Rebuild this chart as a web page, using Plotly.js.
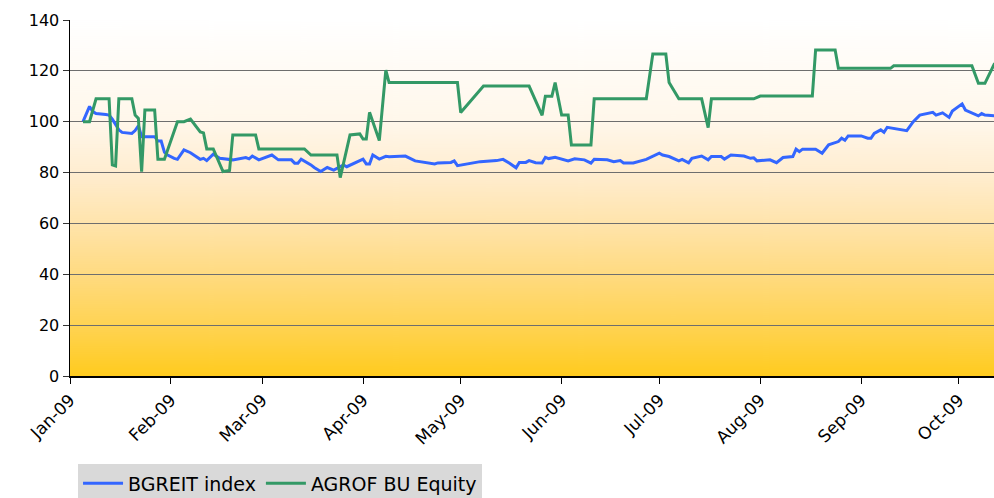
<!DOCTYPE html>
<html>
<head>
<meta charset="utf-8">
<script src="https://cdn.plot.ly/plotly-3.0.1.min.js"></script>
<style>html,body{margin:0;padding:0;background:#fff;}#chart{width:994px;height:498px;}</style>
</head>
<body>
<div id="chart"></div>
<script>
var seriesNames = ["BGREIT index", "AGROF BU Equity"];

var bgreitDates = ["2009-01-05","2009-01-07","2009-01-08","2009-01-09","2009-01-12","2009-01-13","2009-01-14","2009-01-16","2009-01-17","2009-01-19","2009-01-20","2009-01-21","2009-01-22","2009-01-23","2009-01-27","2009-01-28","2009-01-29","2009-01-30","2009-01-31","2009-02-02","2009-02-03","2009-02-05","2009-02-07","2009-02-10","2009-02-11","2009-02-12","2009-02-14","2009-02-16","2009-02-18","2009-02-20","2009-02-24","2009-02-25","2009-02-26","2009-02-28","2009-03-04","2009-03-06","2009-03-10","2009-03-11","2009-03-12","2009-03-13","2009-03-16","2009-03-17","2009-03-19","2009-03-21","2009-03-23","2009-03-26","2009-03-27","2009-04-01","2009-04-02","2009-04-03","2009-04-04","2009-04-06","2009-04-08","2009-04-09","2009-04-14","2009-04-17","2009-04-23","2009-04-24","2009-04-28","2009-04-29","2009-04-30","2009-05-07","2009-05-12","2009-05-14","2009-05-16","2009-05-18","2009-05-19","2009-05-21","2009-05-22","2009-05-24","2009-05-26","2009-05-27","2009-05-28","2009-05-30","2009-06-03","2009-06-05","2009-06-08","2009-06-10","2009-06-11","2009-06-15","2009-06-17","2009-06-19","2009-06-20","2009-06-23","2009-06-27","2009-06-29","2009-07-01","2009-07-02","2009-07-04","2009-07-07","2009-07-08","2009-07-10","2009-07-11","2009-07-14","2009-07-16","2009-07-17","2009-07-20","2009-07-21","2009-07-23","2009-07-27","2009-07-29","2009-07-30","2009-07-31","2009-08-04","2009-08-06","2009-08-08","2009-08-11","2009-08-12","2009-08-13","2009-08-14","2009-08-18","2009-08-20","2009-08-22","2009-08-25","2009-08-26","2009-08-27","2009-08-28","2009-09-01","2009-09-03","2009-09-04","2009-09-05","2009-09-07","2009-09-08","2009-09-09","2009-09-12","2009-09-15","2009-09-17","2009-09-19","2009-09-23","2009-09-24","2009-09-26","2009-09-28","2009-09-29","2009-10-02","2009-10-03","2009-10-07","2009-10-08","2009-10-09","2009-10-12"];
var bgreitValues = [100,106,104,103.2,102.8,102.6,101,96.8,95.8,95.6,95.4,96.5,98.4,94.1,94.1,92.4,92.4,88,86.9,85.6,85.2,88.9,87.8,85.2,85.6,84.7,87.2,85.6,85.2,85,85.9,85.4,86.5,85,86.9,85,85,83.7,83.7,85.3,83,82,80.4,82,81,83,82.3,85.3,83.4,83.4,86.9,85.3,86.4,86.2,86.5,84.6,83.4,83.8,84,84.6,82.7,84.3,84.7,85.2,83.7,81.9,84,84,84.7,83.9,83.8,86,85.5,86,84.6,85.4,85,83.7,85.2,85,84.3,84.7,83.8,83.8,85.2,86.3,87.6,86.9,86.3,84.6,85.2,83.8,85.6,86.5,85,86.3,86.3,85.3,86.9,86.5,85.6,85.8,84.6,85,83.9,85.9,86.3,89.2,88.2,89.2,89.2,87.6,90.9,92.2,93.5,92.7,94.4,94.4,93.5,93.5,95.4,96.8,95.8,97.8,97.2,96.5,100,102.6,103.7,102.6,103.5,101.7,104.2,107,104.6,102.3,103.2,102.6,102.3];

var agrofDates = ["2009-01-05","2009-01-07","2009-01-09","2009-01-13","2009-01-14","2009-01-15","2009-01-16","2009-01-20","2009-01-21","2009-01-22","2009-01-23","2009-01-24","2009-01-27","2009-01-28","2009-01-30","2009-02-03","2009-02-05","2009-02-07","2009-02-10","2009-02-11","2009-02-12","2009-02-14","2009-02-17","2009-02-19","2009-02-20","2009-02-27","2009-02-28","2009-03-14","2009-03-16","2009-03-24","2009-03-25","2009-03-28","2009-03-31","2009-04-01","2009-04-02","2009-04-03","2009-04-06","2009-04-08","2009-04-09","2009-04-30","2009-05-01","2009-05-08","2009-05-22","2009-05-26","2009-05-27","2009-05-29","2009-05-30","2009-06-01","2009-06-03","2009-06-04","2009-06-10","2009-06-11","2009-06-27","2009-06-29","2009-07-03","2009-07-04","2009-07-07","2009-07-14","2009-07-16","2009-07-17","2009-07-30","2009-08-01","2009-08-17","2009-08-18","2009-08-24","2009-08-25","2009-09-10","2009-09-11","2009-10-05","2009-10-07","2009-10-09","2009-10-12"];
var agrofValues = [100,100,109,109,83,82.6,109,109,102.6,101.3,80.4,104.6,104.6,85.2,85.2,100,100,101,96,95.6,89.3,89.3,80.4,80.8,94.8,94.8,89.3,89.3,86.9,86.9,78,94.8,95.2,93.2,93.2,103.7,92.6,120.3,115.4,115.4,103.6,114,114,102.5,110,110,115.4,102.6,102.6,90.8,90.8,109,109,126.6,126.6,115.4,109,109,97.7,109,109,110.1,110.1,128.2,128.2,121,121,122,122,115.1,115.1,123];

var xTickVals = ["2009-01-01","2009-02-01","2009-03-01","2009-04-01","2009-05-01","2009-06-01","2009-07-01","2009-08-01","2009-09-01","2009-10-01"];
var xTickText = ["Jan-09","Feb-09","Mar-09","Apr-09","May-09","Jun-09","Jul-09","Aug-09","Sep-09","Oct-09"];

// background gradient for the plot area
var cv = document.createElement('canvas');
cv.width = 10; cv.height = 356;
var cx = cv.getContext('2d');
var g = cx.createLinearGradient(0, 0, 0, 356);
g.addColorStop(0, '#FFFFFF');
g.addColorStop(0.29, '#FFF7EA');
g.addColorStop(0.43, '#FFEDD0');
g.addColorStop(0.57, '#FFE4AC');
g.addColorStop(0.71, '#FFDB82');
g.addColorStop(0.86, '#FFD352');
g.addColorStop(1, '#FFCB1E');
cx.fillStyle = g;
cx.fillRect(0, 0, 10, 356);
var bgUrl = cv.toDataURL('image/png');

var traces = [
  {x: bgreitDates, y: bgreitValues, name: seriesNames[0], type: 'scatter', mode: 'lines',
   line: {color: '#3366FF', width: 3}},
  {x: agrofDates, y: agrofValues, name: seriesNames[1], type: 'scatter', mode: 'lines',
   line: {color: '#339966', width: 3}}
];

var layout = {
  width: 994, height: 498,
  margin: {l: 70, r: 0, t: 20, b: 122, autoexpand: false},
  paper_bgcolor: '#FFFFFF',
  plot_bgcolor: 'rgba(0,0,0,0)',
  font: {family: 'DejaVu Sans, Arial, sans-serif', color: '#000000'},
  showlegend: true,
  legend: {orientation: 'h', x: 0.0087, xanchor: 'left', y: -0.248, yanchor: 'top',
           bgcolor: '#D9D9D9', font: {size: 19, family: 'DejaVu Sans, Arial, sans-serif', color: '#000'},
           itemwidth: 40, tracegroupgap: 0},
  xaxis: {type: 'date', range: ['2009-01-01', '2009-10-11 19:00'],
          tickmode: 'array', tickvals: xTickVals, ticktext: xTickText,
          tickangle: -45, tickfont: {size: 17, family: 'DejaVu Sans, Arial, sans-serif'},
          ticks: 'outside', ticklen: 6, tickcolor: '#000', tickwidth: 1,
          showgrid: false, showline: true, linecolor: '#000', linewidth: 1.5,
          zeroline: false, fixedrange: true, automargin: false},
  yaxis: {range: [0, 140], tickvals: [0,20,40,60,80,100,120,140],
          tickfont: {size: 16, family: 'DejaVu Sans, Arial, sans-serif'},
          ticks: 'outside', ticklen: 6, tickcolor: '#333', tickwidth: 1,
          showgrid: true, gridcolor: '#6E6E6E', gridwidth: 1.2,
          showline: true, linecolor: '#000', linewidth: 1.5,
          zeroline: false, fixedrange: true, automargin: false},
  images: [{source: bgUrl, xref: 'paper', yref: 'paper', x: 0, y: 1, sizex: 1, sizey: 1,
            sizing: 'stretch', xanchor: 'left', yanchor: 'top', layer: 'below'}]
};

Plotly.newPlot('chart', traces, layout, {displayModeBar: false, staticPlot: true});
</script>
</body>
</html>
